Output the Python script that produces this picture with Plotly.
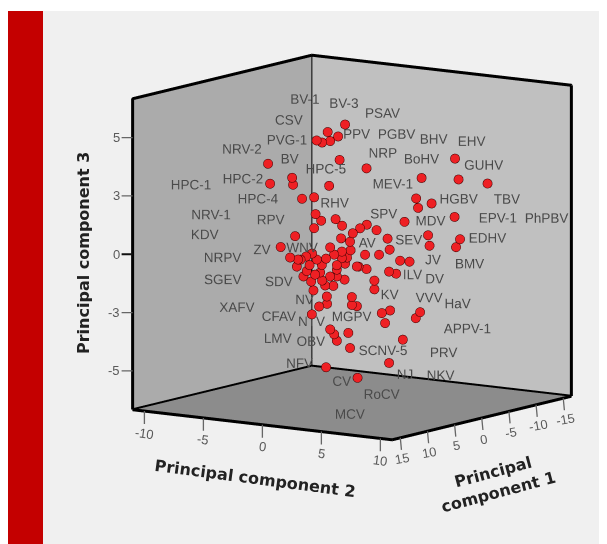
import plotly.graph_objects as go

# Point positions (principal component scores)
pc1 = [6.72,6.56,4.80,4.72,4.00,3.04,1.84,1.00,0.56,1.96,1.12,1.76,2.40,2.84,-1.16,-8.24,-8.52,-10.84,-5.56,-5.12,
       -5.28,-6.36,-8.20,-4.20,-8.64,-8.32,-6.08,-6.20,-3.84,-4.60,-2.96,-3.52,-2.16,-1.04,-3.00,-2.84,-1.96,-1.18,-0.64,-0.06,
       0.16,0.88,0.80,1.32,2.92,2.48,3.04,4.56,5.72,1.76,1.44,0.82,0.12,0.40,0.82,1.22,-0.38,4.96,4.12,4.42,
       3.20,2.82,3.40,2.42,3.62,2.96,3.90,-0.52,-1.16,0.60,-1.78,-1.78,0.02,0.02,-0.38,-3.04,-2.38,-2.64,-5.44,-5.10,
       0.30,-4.06,0.16,-2.96,-0.44,3.10,2.16,1.50,1.22,1.22,2.02,2.64,2.00,3.22,1.76,1.44,1.22,2.08,
       3.68,2.56,2.08,4.32,3.28,1.76,0.56,2.40]
pc2 = [-4.03,-3.93,-2.87,-2.83,-2.40,-1.82,-1.10,-0.60,-0.34,-1.17,-0.67,-1.05,-1.44,-1.70,0.69,4.93,5.10,6.49,3.33,3.07,
       3.16,3.81,4.91,2.51,5.17,4.98,3.64,3.71,2.30,2.75,1.77,2.11,1.29,0.62,1.80,1.70,1.17,0.70,0.38,0.03,
       -0.10,-0.53,-0.48,-0.79,-1.75,-1.48,-1.82,-2.73,-3.42,-1.05,-0.86,-0.49,-0.07,-0.24,-0.49,-0.73,0.23,-2.97,-2.47,-2.65,
       -1.92,-1.69,-2.04,-1.45,-2.17,-1.77,-2.33,0.31,0.69,-0.36,1.07,1.07,-0.01,-0.01,0.23,1.82,1.42,1.58,3.26,3.05,
       -0.18,2.43,-0.10,1.77,0.26,-1.85,-1.29,-0.90,-0.73,-0.73,-1.21,-1.58,-1.20,-1.93,-1.05,-0.86,-0.73,-1.25,
       -2.20,-1.53,-1.25,-2.59,-1.96,-1.05,-0.34,-1.44]
pc3 = [4.49,3.46,3.72,3.36,2.62,2.67,3.23,4.54,6.35,6.00,5.75,5.53,5.47,5.59,4.05,4.37,3.29,3.02,3.44,2.40,
       1.91,2.11,1.37,1.22,0.21,-0.19,0.48,-0.06,-0.77,-0.84,-1.31,-1.43,-0.42,-0.39,-0.18,0.39,0.85,1.15,0.98,0.74,
       0.31,0.50,1.15,1.50,1.80,1.45,1.08,0.71,0.18,0.06,-0.32,-0.18,-0.13,-0.50,-0.52,-0.87,-0.98,-0.38,-0.51,-0.86,
       -0.22,-0.54,-0.81,-0.83,-1.11,-1.31,-1.38,-0.99,-1.13,-1.63,-1.74,-2.19,-2.54,-2.95,-3.02,-3.31,-3.43,-3.95,-3.46,-3.76,
       -4.38,-4.84,-5.16,-6.01,-6.71,-2.12,-1.89,-1.93,-1.45,-1.10,-2.46,-2.96,-2.84,-3.35,-4.16,-4.42,-4.76,-6.10,
       -0.36,-1.21,-0.51,-0.50,-1.66,-1.44,-0.81,-1.63]

# Virus labels and where each label sits
label_names = ["BV-1","BV-3","PSAV","CSV","PPV","PGBV","BHV","EHV","PVG-1","NRV-2","NRP","BoHV","GUHV","BV","HPC-5","MEV-1",
               "HPC-1","HPC-2","HPC-4","RHV","HGBV","TBV","NRV-1","RPV","SPV","MDV","EPV-1","PhPBV","KDV","EDHV","SEV","AV",
               "ZV","WNV","NRPV","JV","BMV","ILV","DV","SGEV","SDV","KV","VVV","HaV","XAFV","NV","CFAV","NTV","MGPV","LMV",
               "OBV","APPV-1","SCNV-5","PRV","NFV","NJ","NKV","CV","RoCV","MCV"]
label_pc1 = [3.76,0.64,-2.48,5.04,-0.40,-3.60,-6.56,-9.60,5.20,8.80,-2.48,-5.60,-10.56,4.96,2.08,-3.28,
             12.88,8.72,7.52,1.36,-8.56,-12.40,11.28,6.48,-2.56,-6.32,-11.68,-14.50,11.76,-10.88,-4.56,-1.20,
             7.20,4.00,10.32,-6.48,-9.44,-4.88,-6.64,10.32,5.84,-3.04,-6.16,-8.48,9.20,3.76,5.84,3.20,0.00,5.92,
             3.28,-9.20,-2.48,-7.36,4.16,-4.24,-7.12,0.80,-2.40,10.00]
label_pc2 = [-2.25,-0.38,1.48,-3.02,0.24,2.16,3.93,5.75,-3.11,-5.27,1.48,3.35,6.32,-2.97,-1.25,1.96,
             -7.71,-5.22,-4.50,-0.81,5.13,7.42,-6.75,-3.88,1.53,3.78,6.99,9.85,-7.04,6.51,2.73,0.72,
             -4.31,-2.40,-6.18,3.88,5.65,2.92,3.98,-6.18,-3.50,1.82,3.69,5.08,-5.51,-2.25,-3.50,-1.92,0.00,-3.54,
             -1.96,5.51,1.48,4.41,-2.49,2.54,4.26,-0.48,1.44,4.46]
label_pc3 = [7.74,7.45,6.86,6.70,5.84,5.75,5.42,5.23,5.68,5.31,4.81,4.42,3.98,4.70,4.11,3.20,
             3.57,3.77,2.71,2.34,2.29,2.18,1.99,1.61,1.68,1.22,1.23,1.24,0.98,0.22,0.29,0.22,
             0.09,0.11,-0.24,-0.79,-1.07,-1.51,-1.77,-1.37,-1.59,-2.49,-2.73,-3.10,-2.83,-2.57,-3.38,-3.71,-3.54,-4.51,
             -4.73,-4.40,-5.35,-5.58,-5.84,-6.63,-6.75,-6.85,-7.60,-7.57]

pc1_range = [-16.5, 16.5]
pc2_range = [-11, 11]
pc3_range = [-8, 8]
pc1_ticks = [-15,-10,-5,0,5,10,15]
pc1_ticktext = ["-15","-10","-5","0","5","10","15"]
pc2_ticks = [-10,-5,0,5,10]
pc2_ticktext = ["-10","-5","0","5","10"]
pc3_ticks = [-6,-3,0,3,6]
pc3_ticktext = ["-5","-3","0","3","5"]

W, H = 600, 536   # the page adds an 8 px margin
def px(x): return (x - 8) / W
def py(y): return 1 - (y - 8) / H

x0, x1 = pc1_range; y0, y1 = pc2_range; z0, z1 = pc3_range
edges = dict(
    x=[x0,x0,x1,x1,x0,None,x1,x1,x0,x0,x0,None,x0,x0],
    y=[y0,y1,y1,y0,y0,None,y0,y0,y0,y1,y1,None,y0,y0],
    z=[z0,z0,z0,z0,z0,None,z0,z1,z1,z1,z0,None,z0,z1])

fig = go.Figure()
fig.add_trace(go.Scatter3d(**edges, mode="lines", line=dict(color="black", width=6), hoverinfo="skip"))
fig.add_trace(go.Scatter3d(x=label_pc1, y=label_pc2, z=label_pc3, text=label_names, mode="text",
                           textposition="middle center",
                           textfont=dict(size=13.5, family="Liberation Sans", color="#4a4a4a"), hoverinfo="text"))
fig.add_trace(go.Scatter3d(x=pc1, y=pc2, z=pc3, mode="markers",
                           marker=dict(size=5.4, color="#ee2024", line=dict(color="#3a0000", width=1), opacity=1),
                           hoverinfo="x+y+z"))

def ax(rng, bg):
    return dict(range=rng, showgrid=False, zeroline=False, showbackground=True, backgroundcolor=bg,
                ticks="", showticklabels=False, title="", showspikes=False, showline=False)

def tick(x, y, z, text, **kw):
    base = dict(x=x, y=y, z=z, text=text, showarrow=True, arrowhead=0, arrowwidth=1.3, arrowcolor="#666",
                font=dict(size=13, family="Liberation Sans", color="#5a5a5a"))
    base.update(kw)
    return base

ticks = []
for v, t in zip(pc1_ticks, pc1_ticktext):
    ticks.append(tick(v, y1, z0, t, ax=2, ay=21, textangle=-10))
for v, t in zip(pc2_ticks, pc2_ticktext):
    ticks.append(tick(x1, v, z0, t, ax=0, ay=22, textangle=8))
for v, t in zip(pc3_ticks, pc3_ticktext):
    ticks.append(tick(x1, y0, v, t, ax=-11, ay=0, xanchor="right",
                      arrowcolor="#111" if v == 0 else "#666", arrowwidth=2 if v == 0 else 1.3))

fig.update_layout(
    width=W, height=H, margin=dict(l=0, r=0, t=0, b=0), paper_bgcolor="#f0f0f0", showlegend=False,
    scene=dict(domain=dict(x=[88/600, 1], y=[57/536, 1]), aspectmode="manual",
               aspectratio=dict(x=1.317, y=1.317, z=1.317),
               xaxis=ax(pc1_range, "#c0c0c0"),
               yaxis=ax(pc2_range, "#ababab"),
               zaxis=ax(pc3_range, "#8c8c8c"),
               annotations=ticks,
               camera=dict(projection=dict(type="orthographic"),
                           eye=dict(x=0.811*1.3536, y=0.560*1.3536, z=0.1678*1.3536),
                           up=dict(x=0, y=0, z=1), center=dict(x=0, y=0, z=0))),
    shapes=[
        dict(type="rect", xref="paper", yref="paper", x0=0, x1=1, y0=py(11), y1=1, fillcolor="white", line_width=0),
        dict(type="rect", xref="paper", yref="paper", x0=0, x1=px(43), y0=0, y1=py(11), fillcolor="#c40000", line_width=0),
    ],
    annotations=[
        dict(text="<b>Principal component 3</b>", x=px(83), y=py(253), textangle=-90),
        dict(text="<b>Principal component 2</b>", x=px(255), y=py(478), textangle=7.5),
        dict(text="<b>Principal<br>component 1</b>", x=px(496), y=py(482), textangle=-15),
    ],
)
for a in fig.layout.annotations:
    a.update(xref="paper", yref="paper", showarrow=False, xanchor="center", yanchor="middle",
             font=dict(size=16, family="DejaVu Sans", color="#222"))
fig.write_html("out.html")
